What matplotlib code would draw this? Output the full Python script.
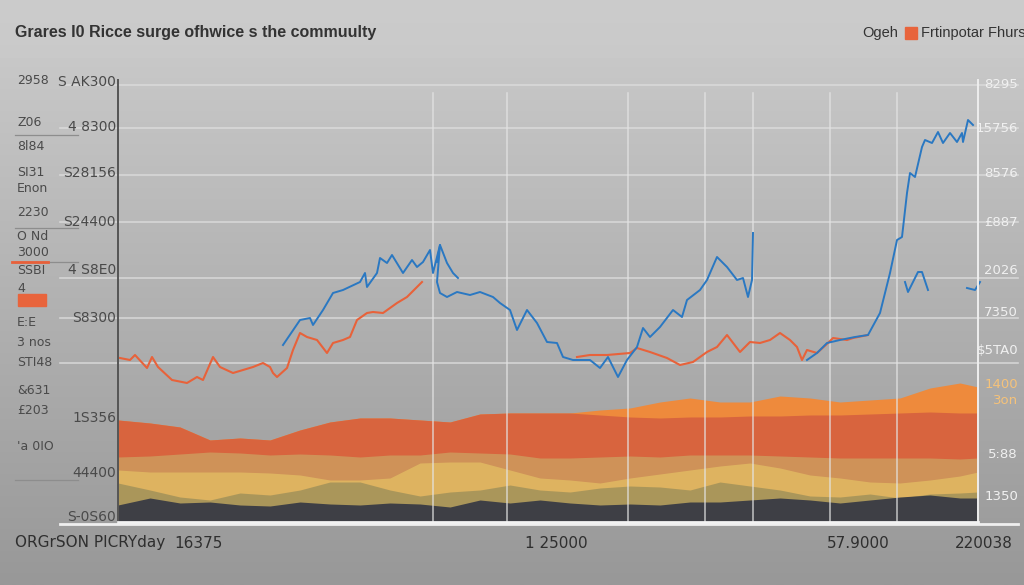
import numpy as np
import matplotlib
matplotlib.use("Agg")
import matplotlib.pyplot as plt

# ── data (day index, price) ─────────────────────────────────────────────
blue_days = [165, 182, 192, 195, 205, 215, 225, 242, 247, 249, 259, 262, 269, 274,
             285, 294, 299, 305, 312, 315, 322, 319, 322, 329, 339, 352, 362, 375,
             382, 392, 399, 409, 419, 429, 439, 445, 455, 472, 482, 490, 500, 509,
             519, 525, 532, 542, 555, 564, 569, 582, 589, 599, 609, 619, 625, 630,
             634, 635, 660,
             689, 699, 709, 722, 737, 750, 762, 772, 779, 784, 789, 792, 797, 804,
             807, 814, 820, 825, 832, 839, 844, 845, 850, 855]
blue_price = [1770, 2020, 2040, 1970, 2120, 2290, 2320, 2400, 2490, 2350, 2490, 2640,
              2590, 2670, 2490, 2620, 2550, 2600, 2720, 2490, 2770, 2400, 2290, 2250,
              2300, 2270, 2300, 2250, 2190, 2120, 1920, 2120, 1990, 1800, 1790, 1650,
              1620, 1620, 1540, 1650, 1450, 1620, 1750, 1940, 1850, 1950, 2120, 2050,
              2220, 2320, 2420, 2650, 2550, 2420, 2440, 2250, 2420, 2890, np.nan,
              1620, 1690, 1790, 1820, 1850, 1870, 2090, 2490, 2820, 2850, 3290, 3490,
              3450, 3750, 3820, 3790, 3900, 3790, 3890, 3800, 3890, 3800, 4020, 3970]

blue_frag_days = [319, 322, 329, 335, 340]
blue_frag_price = [2600, 2770, 2590, 2490, 2440]
blue_tail_days = [787, 790, 800, 804, 810, 830, 849, 857, 862]
blue_tail_price = [2400, 2300, 2500, 2500, 2320, np.nan, 2340, 2320, 2400]

orange_days = [2, 12, 17, 29, 34, 40, 54, 69, 79, 85, 95, 102, 115, 125, 135, 145,
               152, 155, 159, 169, 175, 182, 189, 199, 209, 215, 225, 232, 239, 249,
               255, 265, 279, 289, 299, 304, 380,
               459, 472, 489, 512, 519, 532, 549, 562, 575, 589, 599, 609, 622, 632,
               642, 652, 662, 672, 679, 684, 689, 699, 710, 715, 729, 735, 750]
orange_price = [1640, 1620, 1670, 1540, 1650, 1550, 1420, 1390, 1450, 1420, 1650,
                1550, 1490, 1520, 1550, 1590, 1550, 1490, 1450, 1540, 1720, 1890,
                1850, 1820, 1690, 1790, 1820, 1850, 2020, 2090, 2100, 2090, 2190,
                2250, 2350, 2400, np.nan,
                1650, 1670, 1670, 1690, 1740, 1700, 1640, 1570, 1600, 1700, 1750,
                1870, 1700, 1800, 1790, 1820, 1890, 1820, 1750, 1620, 1720, 1690,
                1790, 1840, 1820, 1840, 1870]

band_days = [0, 32, 62, 92, 122, 152, 182, 212, 242, 272, 302, 332, 362, 392, 422,
             452, 482, 512, 542, 572, 602, 632, 662, 692, 722, 752, 782, 812, 842, 860]
band_orange = [1020, 990, 950, 820, 840, 820, 920, 1000, 1040, 1040, 1020, 1000, 1080,
               1090, 1090, 1090, 1120, 1140, 1200, 1240, 1200, 1200, 1260, 1240, 1200,
               1220, 1240, 1340, 1390, 1350]
band_red = [1020, 990, 950, 820, 840, 820, 920, 1000, 1040, 1040, 1020, 1000, 1080,
            1090, 1090, 1090, 1070, 1050, 1040, 1050, 1050, 1060, 1060, 1070, 1070,
            1080, 1090, 1100, 1090, 1090]
band_tan = [650, 660, 680, 700, 690, 670, 680, 670, 650, 670, 670, 700, 690, 680, 640,
            640, 650, 660, 650, 670, 670, 670, 660, 650, 640, 640, 640, 640, 630, 640]
band_yellow = [520, 500, 500, 500, 500, 490, 470, 420, 420, 440, 590, 600, 600, 520,
               440, 420, 390, 440, 480, 520, 560, 590, 540, 470, 440, 400, 390, 420,
               460, 500]
band_olive = [390, 320, 250, 220, 290, 270, 320, 400, 400, 320, 260, 300, 320, 370,
              320, 300, 340, 360, 350, 320, 400, 360, 320, 260, 250, 280, 240, 280,
              290, 300]
band_dark = [170, 240, 190, 200, 170, 160, 200, 180, 170, 190, 180, 150, 220, 190, 220,
             190, 170, 180, 170, 200, 200, 220, 240, 220, 190, 220, 250, 270, 240, 240]

left_outer = ["2958", "Z06", "8l84", "SI31", "Enon", "2230", "O Nd", "3000", "SSBI",
              "4", "E:E", "3 nos", "STI48", "&631", "£203", "'a 0IO"]
left_outer_y = [80, 122, 146, 172, 188, 212, 237, 252, 270, 288, 322, 342, 362, 390,
                410, 447]
left_inner = ["S AK300", "4 8300", "S28156", "S24400", "4 S8E0", "S8300", "1S356",
              "44400", "S-0S60"]
left_inner_y = [82, 127, 173, 222, 270, 318, 418, 473, 517]
right_labels = ["8295", "15756", "8576", "£887", "2026", "7350", "$5TA0", "1400",
                "3on", "5:88", "1350"]
right_y = [85, 128, 173, 222, 270, 312, 350, 385, 400, 455, 497]
bottom_labels = ["16375", "1 25000", "57.9000", "220038"]
bottom_x = [198, 556, 858, 984]

grid_y = [85, 128, 175, 222, 278, 318, 363]
grid_x = [433, 507, 628, 705, 753, 830, 897]

W, H = 1024, 585
fig = plt.figure(figsize=(W / 100, H / 100), dpi=100)

# background gradient
bg = fig.add_axes([0, 0, 1, 1])
grad = np.linspace(205, 152, 256)[:, None] / 255.0
bg.imshow(np.dstack([grad, grad, grad]), aspect="auto", extent=[0, W, H, 0])
bg.axhspan(0, 58, color="#cbcbcb", alpha=0.6, lw=0)
bg.set_xlim(0, W)
bg.set_ylim(H, 0)
bg.axis("off")

# grid + label decorations in pixel space of the background axes
for gy in grid_y:
    bg.plot([60, 1018], [gy, gy], color="#dedede", lw=1.2, alpha=0.8)
for gy in [135, 228, 262, 480]:
    bg.plot([15, 78], [gy, gy], color="#8d8d8d", lw=0.9)
bg.plot([12, 48], [262, 262], color="#e8603a", lw=2)
bg.add_patch(plt.Rectangle((18, 294), 28, 12, color="#e8643c"))
bg.plot([60, 1018], [524, 524], color="#efefef", lw=2)

ax = fig.add_axes([118 / W, 63 / H, 860 / W, 442 / H])
ax.set_facecolor("none")
ax.set_xlim(0, 860)
ax.set_ylim(0, 4420)

for gx in grid_x:
    ax.axvline(gx - 118, ymin=0, ymax=0.97, color="#e4e4e4", lw=1.1, alpha=0.8)

ax.fill_between(band_days, band_orange, color="#ee8a3c", lw=0)
ax.fill_between(band_days, band_red, color="#d8643e", lw=0)
ax.fill_between(band_days, band_tan, color="#cf955a", lw=0, alpha=0.95)
ax.fill_between(band_days, band_yellow, color="#e0b762", lw=0, alpha=0.9)
ax.fill_between(band_days, band_olive, color="#a8955a", lw=0, alpha=0.95)
ax.fill_between(band_days, band_dark, color="#3e3f45", lw=0)

ax.plot(orange_days, orange_price, color="#e8623a", lw=1.5)
ax.plot(blue_days, blue_price, color="#2a78c2", lw=1.4)
ax.plot(blue_frag_days, blue_frag_price, color="#2a78c2", lw=1.4)
ax.plot(blue_tail_days, blue_tail_price, color="#2a78c2", lw=1.4, clip_on=False)

ax.spines["top"].set_visible(False)
ax.spines["left"].set_color("#555555")
ax.spines["left"].set_linewidth(1.4)
ax.spines["right"].set_color("#eeeeee")
ax.spines["right"].set_linewidth(1.4)
ax.spines["bottom"].set_color("#f2f2f2")
ax.spines["bottom"].set_linewidth(2)
ax.set_xticks([])
ax.set_yticks([])

# texts
fig.text(15 / W, 1 - 33 / H, "Grares I0 Ricce surge ofhwice s the commuulty",
         fontsize=11.5, fontweight="bold", color="#333333", va="center",
         family=["Liberation Sans", "DejaVu Sans"])
fig.text(862 / W, 1 - 33 / H, "Ogeh", fontsize=10.5, color="#333333", va="center",
         family=["Liberation Sans", "DejaVu Sans"])
bg.add_patch(plt.Rectangle((905, 27), 12, 12, color="#e8643c"))
fig.text(921 / W, 1 - 33 / H, "Frtinpotar Fhurs", fontsize=10.5, color="#333333",
         va="center", family=["Liberation Sans", "DejaVu Sans"])

for t, y in zip(left_outer, left_outer_y):
    fig.text(17 / W, 1 - y / H, t, fontsize=9, color="#4a4a4a", va="center",
             family=["Liberation Sans Narrow", "DejaVu Sans"])
for t, y in zip(left_inner, left_inner_y):
    fig.text(116 / W, 1 - y / H, t, fontsize=10, color="#4a4a4a", va="center",
             ha="right", family=["Liberation Sans Narrow", "DejaVu Sans"])
for t, y in zip(right_labels, right_y):
    col = "#f5c27a" if t in ("1400", "3on") else "#f0f0f0"
    fig.text(1018 / W, 1 - y / H, t, fontsize=9.5, color=col, va="center",
             ha="right", family=["Liberation Sans Narrow", "DejaVu Sans"])

fig.text(15 / W, 1 - 543 / H, "ORGrSON PICRYday", fontsize=11, color="#2f2f2f",
         va="center", family=["Liberation Sans Narrow", "DejaVu Sans"])
for t, x in zip(bottom_labels, bottom_x):
    fig.text(x / W, 1 - 543 / H, t, fontsize=11, color="#2f2f2f", va="center",
             ha="center", family=["Liberation Sans Narrow", "DejaVu Sans"])

fig.savefig("out.png", dpi=100)
